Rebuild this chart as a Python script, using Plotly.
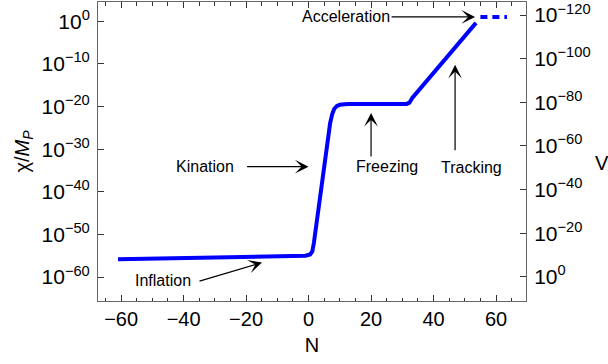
import plotly.graph_objects as go

# Field evolution chi/M_P versus e-folds N (log10 of chi/M_P)
N_main = [-61, -40, -20, -10, -4, -1, 0.5, 1.2, 1.7, 2.6, 3.7, 4.7, 5.8, 6.9,
          7.6, 8.2, 9.0, 10.0, 11.5, 13.0, 31.4, 32.3, 33.2, 53.6]
log_chi_main = [-55.8, -55.6, -55.4, -55.25, -55.15, -55.0, -54.7, -54.0, -52.0,
                -47.3, -41.9, -35.6, -29.4, -23.9, -21.7, -20.6, -19.9, -19.6,
                -19.45, -19.4, -19.4, -19.1, -18.0, -0.4]

# Acceleration epoch (dashed continuation)
N_accel = [55.0, 63.5]
log_chi_accel = [1.0, 1.0]

# Axis ticks: left (chi/M_P) and right (V) exponents
left_tick_exp = [0, -10, -20, -30, -40, -50, -60]
right_tick_exp = [-120, -100, -80, -60, -40, -20, 0]

FONT = "Liberation Sans, Arial, sans-serif"
BLUE = "#0000ff"
AXIS = "#666666"
TICK = "#333333"


def sup10(e):
    return "10<sup>%s</sup>" % (str(e).replace("-", "\u2212"))


fig = go.Figure()
fig.add_trace(go.Scatter(
    x=N_main, y=[10 ** e for e in log_chi_main], mode="lines",
    line=dict(color=BLUE, width=4), hoverinfo="skip", showlegend=False))
fig.add_trace(go.Scatter(
    x=N_accel, y=[10 ** e for e in log_chi_accel], mode="lines",
    line=dict(color=BLUE, width=4, dash="7px,5px"), hoverinfo="skip",
    showlegend=False))
# carrier trace so the right-hand V axis is drawn
fig.add_trace(go.Scatter(
    x=[0], y=[1e-60], yaxis="y2", mode="markers", marker=dict(opacity=0),
    hoverinfo="skip", showlegend=False))

tick_common = dict(ticks="inside", ticklen=6, tickcolor=TICK, tickwidth=1,
                   showline=True, linecolor=AXIS, linewidth=1,
                   showgrid=False, zeroline=False)

fig.update_layout(
    width=608, height=364,
    margin=dict(l=98, r=82, t=2, b=63),
    paper_bgcolor="white", plot_bgcolor="white",
    font=dict(family=FONT, color="black"),
    xaxis=dict(range=[-67.4, 69.6], dtick=20, tick0=0, mirror="ticks",
               minor=dict(dtick=5, ticks="inside", ticklen=3.5, tickcolor=TICK),
               tickfont=dict(family=FONT, size=20, color="black"),
               title=dict(text="N", font=dict(family=FONT, size=20), standoff=8),
               **tick_common),
    yaxis=dict(type="log", range=[-65.6, 4.5],
               tickvals=[10 ** e for e in left_tick_exp],
               ticktext=[sup10(e) for e in left_tick_exp],
               ticklabelstandoff=3,
               tickfont=dict(family=FONT, size=21, color="black"),
               title=dict(text="\u03c7/<i>M</i><sub><i>P</i></sub>",
                          font=dict(family=FONT, size=20), standoff=6),
               **tick_common),
    yaxis2=dict(type="log", range=[11.1, -126.0], overlaying="y", side="right",
                anchor="x",
                tickvals=[10 ** e for e in right_tick_exp],
                ticktext=[sup10(e) for e in right_tick_exp],
                ticklabelstandoff=3,
                tickfont=dict(family=FONT, size=21, color="black"),
                **tick_common),
)

# Horizontal "V" label for the right axis
fig.add_annotation(x=1.1776, y=0.4615, xref="paper", yref="paper", text="V",
                   showarrow=False, xanchor="center", yanchor="middle",
                   font=dict(family=FONT, size=20, color="black"))

# Epoch labels and arrows
labels = [("Acceleration", 11.9, 1.0), ("Kination", -33.1, -34.1),
          ("Freezing", 25.0, -34.1), ("Tracking", 52.0, -34.4),
          ("Inflation", -46.6, -60.9)]
for text, x, ly in labels:
    fig.add_annotation(x=x, y=ly, xref="x", yref="y", text=text, showarrow=False,
                       font=dict(family=FONT, size=16, color="black"))

arrows = [(53.3, 1.0, -85, 0), (46.9, -10.2, 0, 87), (20.0, -21.5, 0, 45),
          (0.0, -34.1, -63, 0), (-14.9, -56.6, -64, 19)]
for x, ly, ax, ay in arrows:
    fig.add_annotation(x=x, y=ly, xref="x", yref="y", text="", showarrow=True,
                       ax=ax, ay=ay, arrowhead=3, arrowsize=1.9, arrowwidth=1.2,
                       arrowcolor="black")

fig.write_html("out.html")
